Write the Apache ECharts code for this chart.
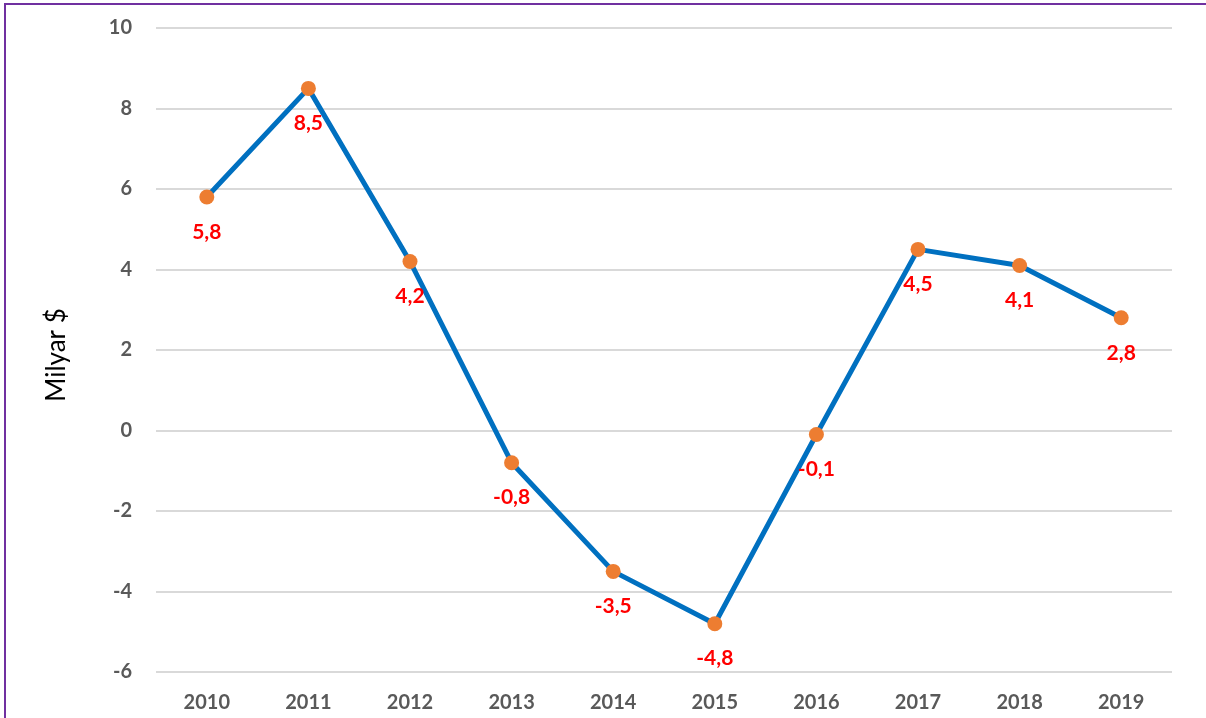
<!DOCTYPE html>
<html>
<head>
<meta charset="utf-8">
<script src="https://cdn.jsdelivr.net/npm/echarts@6/dist/echarts.min.js"></script>
<style>
html,body{margin:0;padding:0;background:#fff;}
#frame{position:absolute;left:4px;top:3px;width:1300px;height:800px;border-top:2px solid #7030A0;border-left:2px solid #7030A0;box-sizing:border-box;}
#chart{position:absolute;left:0;top:0;width:1206px;height:718px;}
</style>
</head>
<body>
<div id="frame"></div>
<div id="chart"></div>
<script>
const years = ['2010','2011','2012','2013','2014','2015','2016','2017','2018','2019'];
const values = [5.8, 8.5, 4.2, -0.8, -3.5, -4.8, -0.1, 4.5, 4.1, 2.8];
const yAxisName = 'Milyar $';

const chart = echarts.init(document.getElementById('chart'), null, {renderer:'canvas'});
chart.setOption({
  animation:false,
  backgroundColor:'transparent',
  grid:{left:156,right:34,top:28,bottom:46,containLabel:false},
  xAxis:{
    type:'category', data:years, boundaryGap:true,
    axisLine:{show:false}, axisTick:{show:false},
    axisLabel:{color:'#595959',fontFamily:'Lato',fontWeight:'bold',fontSize:20,margin:21}
  },
  yAxis:{
    type:'value', min:-6, max:10, interval:2,
    name:yAxisName, nameLocation:'middle', nameGap:86, nameRotate:90,
    nameTextStyle:{color:'#000',fontFamily:'Lato',fontSize:26,padding:[0,0,0,-10]},
    axisLine:{show:false}, axisTick:{show:false},
    axisLabel:{color:'#595959',fontFamily:'Lato',fontWeight:'bold',fontSize:20,margin:24},
    splitLine:{lineStyle:{color:'#d9d9d9',width:2}}
  },
  series:[{
    type:'line', data:values,
    lineStyle:{color:'#0070C0',width:5},
    symbol:'circle', symbolSize:15,
    itemStyle:{color:'#ED7D31',borderWidth:0},
    label:{show:true,position:'bottom',distance:17,color:'#FF0000',fontFamily:'Lato',fontWeight:'bold',fontSize:21,
      formatter:p=>String(p.value).replace('.',',')}
  }]
});
</script>
</body>
</html>
